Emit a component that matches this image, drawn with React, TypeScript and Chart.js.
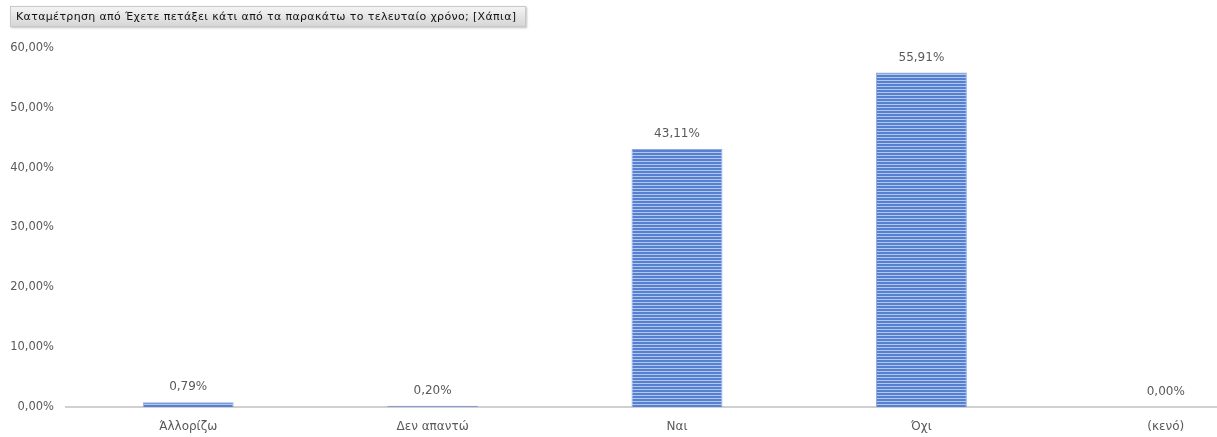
import React, { useEffect, useRef } from "react";
import { Chart, registerables } from "chart.js";

Chart.register(...registerables);

const categories = ["Άλλορίζω", "Δεν απαντώ", "Ναι", "Όχι", "(κενό)"];
const values = [0.79, 0.2, 43.11, 55.91, 0.0];
const yTicks = [0, 10, 20, 30, 40, 50, 60];
const titleText = "Καταμέτρηση από Έχετε πετάξει κάτι από τα παρακάτω το τελευταίο χρόνο; [Χάπια]";

const FONT = "'DejaVu Sans', 'Noto Sans', sans-serif";

const fmt = (v: number) => v.toFixed(2).replace(".", ",") + "%";

function makePattern(): CanvasPattern | string {
  const c = document.createElement("canvas");
  c.width = 4;
  c.height = 3;
  const ctx = c.getContext("2d");
  if (!ctx) return "#4472C4";
  ctx.fillStyle = "#5680D2";
  ctx.fillRect(0, 0, 4, 2);
  ctx.fillStyle = "#B3C6EC";
  ctx.fillRect(0, 2, 4, 1);
  const p = ctx.createPattern(c, "repeat");
  return p || "#4472C4";
}

const labelPlugin = {
  id: "valueLabels",
  afterDatasetsDraw(chart: any) {
    const ctx = chart.ctx;
    const meta = chart.getDatasetMeta(0);
    ctx.save();
    ctx.fillStyle = "#595959";
    ctx.font = `12px ${FONT}`;
    ctx.textAlign = "center";
    ctx.textBaseline = "middle";
    meta.data.forEach((el: any, i: number) => {
      ctx.fillText(fmt(values[i]), el.x, el.y - 15);
    });
    ctx.restore();
  },
};

export default function App() {
  const ref = useRef<HTMLCanvasElement | null>(null);

  useEffect(() => {
    document.body.style.margin = "0";
    document.body.style.overflow = "hidden";
    if (!ref.current) return;
    const chart = new Chart(ref.current, {
      type: "bar",
      data: {
        labels: categories,
        datasets: [
          {
            data: values,
            backgroundColor: makePattern() as any,
            borderColor: "#8EAADF",
            borderWidth: { left: 1, right: 1, top: 1, bottom: 0 } as any,
            borderSkipped: false,
            barPercentage: 0.372,
            categoryPercentage: 1,
          },
        ],
      },
      options: {
        responsive: false,
        animation: false,
        layout: { padding: { left: 0, right: 2, top: 48, bottom: 0 } },
        plugins: {
          legend: { display: false },
          tooltip: { enabled: false },
          title: { display: false },
        },
        scales: {
          x: {
            grid: { display: false, drawTicks: false },
            border: { display: true, color: "#D0D0D0", width: 2 },
            ticks: {
              color: "#595959",
              font: { family: FONT, size: 12 },
              padding: 13,
              maxRotation: 0,
              autoSkip: false,
            },
            afterFit: (s: any) => {
              s.height = 30;
            },
          },
          y: {
            min: 0,
            max: 60,
            grid: { display: false, drawTicks: false },
            border: { display: false },
            ticks: {
              stepSize: 10,
              color: "#595959",
              font: { family: FONT, size: 11.5 },
              padding: 12,
              callback: (v: any) => (yTicks.includes(Number(v)) ? fmt(Number(v)) : ""),
            },
            afterFit: (s: any) => {
              s.width = 66;
            },
          },
        },
      },
      plugins: [labelPlugin],
    });
    return () => chart.destroy();
  }, []);

  return (
    <div
      style={{
        position: "fixed",
        left: 0,
        top: 0,
        width: 1217,
        height: 437,
        overflow: "hidden",
        background: "#fff",
      }}
    >
      <canvas ref={ref} width={1290} height={437} style={{ width: 1290, height: 437, display: "block" }} />
      <div
        style={{
          position: "absolute",
          left: 10,
          top: 6,
          width: 516,
          height: 21,
          boxSizing: "border-box",
          background: "linear-gradient(#f4f4f4, #d6d6d6)",
          border: "1px solid #c8c8c8",
          boxShadow: "1px 1px 2px rgba(0,0,0,0.25)",
          fontFamily: FONT,
          fontSize: 11,
          letterSpacing: "0.35px",
          color: "#111",
          lineHeight: "19px",
          paddingLeft: 5,
          whiteSpace: "nowrap",
          overflow: "hidden",
        }}
      >
        {titleText}
      </div>
    </div>
  );
}
